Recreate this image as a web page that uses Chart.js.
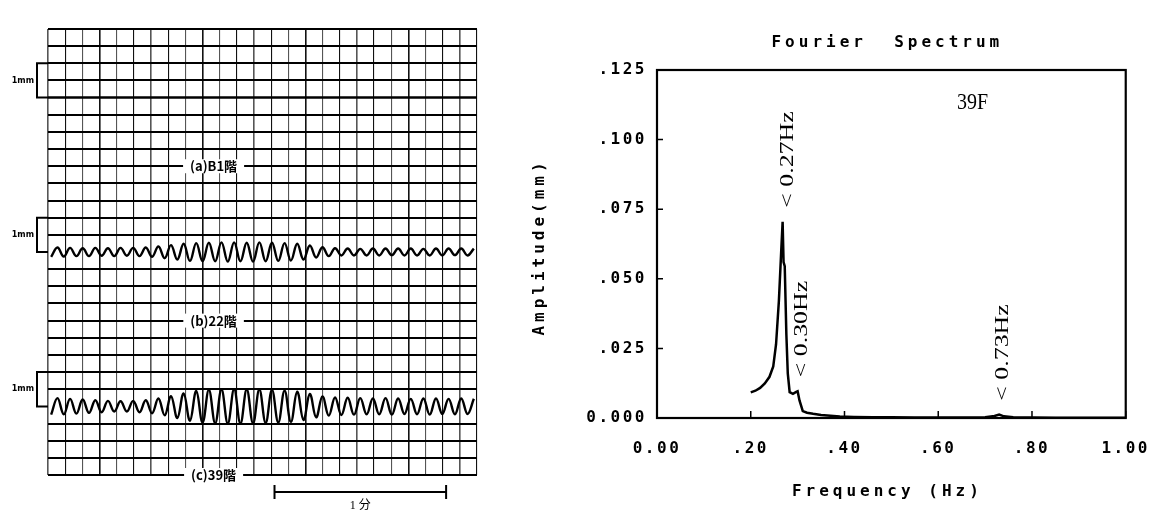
<!DOCTYPE html>
<html>
<head>
<meta charset="utf-8">
<script src="https://cdn.jsdelivr.net/npm/chart.js@4.4.1/dist/chart.umd.min.js"></script>
<style>
  html, body { margin: 0; padding: 0; background: #fff; }
  #wrap { position: relative; width: 1166px; height: 525px; overflow: hidden; background: #fff; }
  #records { position: absolute; left: 0; top: 0; }
  #spectrum { position: absolute; left: 520px; top: 0; }
</style>
</head>
<body>
<div id="wrap">
  <canvas id="records" width="500" height="525"></canvas>
  <canvas id="spectrum" width="646" height="525"></canvas>
</div>
<script>
// 記録波形: 半周期ごとの山・谷の振幅 (mm)
const traceB1 = [0, 0];
const traceB22 = [
  -0.14, 0.13, -0.13, 0.12, -0.12, 0.11, -0.12, 0.12, -0.11, 0.11, -0.12, 0.12, -0.11, 0.12, -0.12, 0.13, -0.14,
  0.16, -0.18, 0.20, -0.22, 0.24,
  -0.26, 0.26, -0.27, 0.27, -0.27, 0.28, -0.28, 0.28, -0.27, 0.27, -0.28, 0.28, -0.27, 0.27, -0.26, 0.26, -0.25, 0.24, -0.22,
  0.19, -0.16, 0.14, -0.12,
  0.11, -0.10, 0.10, -0.10, 0.09, -0.10, 0.10, -0.10, 0.10, -0.09, 0.10, -0.10, 0.10, -0.10, 0.09, -0.10, 0.10, -0.10, 0.10, -0.09, 0.10, -0.10, 0.10
];
const traceC39 = [
  -0.24, 0.24, -0.23, 0.22, -0.21, 0.20,
  -0.19, 0.18, -0.17, 0.16, -0.15, 0.15, -0.15, 0.16, -0.17, 0.18,
  -0.20, 0.23, -0.26, 0.30,
  -0.34, 0.38, -0.42, 0.45,
  -0.47, 0.48, -0.49, 0.49, -0.50, 0.50, -0.50, 0.49, -0.49, 0.49, -0.48, 0.48, -0.47, 0.46, -0.45, 0.43,
  -0.40, 0.36, -0.32, 0.29,
  -0.27, 0.26, -0.25, 0.25, -0.24, 0.24, -0.23, 0.23, -0.23, 0.24, -0.24, 0.23, -0.22, 0.22, -0.23, 0.23, -0.24, 0.23, -0.22, 0.22, -0.23, 0.23, -0.22, 0.22
];
const floorLabels = ['(a)B1階', '(b)22階', '(c)39階'];

// フーリエスペクトル (39F)
const freqHz = [0.200, 0.210, 0.220, 0.230, 0.240, 0.248, 0.254, 0.260, 0.265, 0.268, 0.270, 0.2725, 0.276, 0.279, 0.283,
  0.290, 0.297, 0.300, 0.304, 0.311, 0.320, 0.333, 0.350, 0.370, 0.390, 0.420, 0.460, 0.500, 0.550, 0.600, 0.650,
  0.700, 0.720, 0.730, 0.740, 0.760, 0.800, 0.850, 0.900, 0.950, 1.000];
const amplitudeMm = [0.0092, 0.0098, 0.0108, 0.0124, 0.0148, 0.0185, 0.0265, 0.0420, 0.0600, 0.0705, 0.0560, 0.0545, 0.0300, 0.0160, 0.0093,
  0.0087, 0.0094, 0.0096, 0.0063, 0.0025, 0.0019, 0.0015, 0.0011, 0.0008, 0.0005, 0.0004, 0.0003, 0.0003, 0.0002, 0.0002, 0.0002,
  0.0003, 0.0007, 0.0012, 0.0006, 0.0003, 0.0002, 0.0001, 0.0001, 0.0001, 0.0001];
const peakFreq = [0.27, 0.30, 0.73];
const peakAmp = [0.0705, 0.0096, 0.0012];
const peakText = ['< 0.27Hz', '< 0.30Hz', '< 0.73Hz'];
const xTickLabels = ['0.00', '.20', '.40', '.60', '.80', '1.00'];
const yTickLabels = ['0.000', '.025', '.050', '.075', '.100', '.125'];

// --- 記録紙 ---
const GRID_COLS = 25, GRID_ROWS = 26;
const traceRows = [22, 13, 4];   // 各波形の基線 (グリッド行)
const labelRows = [18, 9, 0];
const MM = 2;                    // 1mm = 2 マス

function wavePoints(vals, row) {
  const step = GRID_COLS / vals.length;
  return vals.map((v, i) => ({ x: (i + 0.5) * step, y: row + v * MM }));
}

const recordDecor = {
  id: 'recordDecor',
  afterDraw(chart) {
    const { ctx, chartArea: a, scales: { x, y } } = chart;
    ctx.save();
    ctx.strokeStyle = '#000';
    ctx.fillStyle = '#000';
    ctx.lineWidth = 2;
    // 1mm brackets
    traceRows.forEach(r => {
      const y0 = y.getPixelForValue(r), y1 = y.getPixelForValue(r + MM);
      const bx = a.left - 11;
      ctx.beginPath();
      ctx.moveTo(a.left, y1); ctx.lineTo(bx, y1); ctx.lineTo(bx, y0); ctx.lineTo(a.left, y0);
      ctx.stroke();
      ctx.font = 'bold 8px "DejaVu Sans"';
      ctx.textAlign = 'right';
      ctx.textBaseline = 'middle';
      ctx.fillText('1mm', bx - 3, (y0 + y1) / 2);
    });
    // floor labels on white
    ctx.font = 'bold 13px "Noto Sans CJK JP"';
    ctx.textAlign = 'center';
    ctx.textBaseline = 'middle';
    floorLabels.forEach((t, i) => {
      const cx = x.getPixelForValue(9.65), cy = y.getPixelForValue(labelRows[i]);
      const w = ctx.measureText(t).width + 14;
      ctx.fillStyle = '#fff';
      ctx.fillRect(cx - w / 2, cy - 7, w, 14);
      ctx.fillStyle = '#000';
      ctx.fillText(t, cx, cy);
    });
    // 1分 scale bar
    const sx0 = x.getPixelForValue(13.2), sx1 = x.getPixelForValue(23.2), sy = a.bottom + 17;
    ctx.lineWidth = 2;
    ctx.beginPath();
    ctx.moveTo(sx0, sy); ctx.lineTo(sx1, sy);
    ctx.moveTo(sx0, sy - 7); ctx.lineTo(sx0, sy + 7);
    ctx.moveTo(sx1, sy - 7); ctx.lineTo(sx1, sy + 7);
    ctx.stroke();
    ctx.font = '12px "Liberation Serif", "Noto Sans CJK JP"';
    ctx.fillText('1 分', (sx0 + sx1) / 2, sy + 14);
    ctx.restore();
  }
};

new Chart(document.getElementById('records'), {
  type: 'line',
  data: {
    datasets: [
      { data: [{ x: 0, y: traceRows[0] + traceB1[0] }, { x: GRID_COLS, y: traceRows[0] + traceB1[1] }], borderWidth: 2.5, tension: 0 },
      { data: wavePoints(traceB22, traceRows[1]), borderWidth: 2.4, tension: 0.4 },
      { data: wavePoints(traceC39, traceRows[2]), borderWidth: 2.4, tension: 0.4 }
    ]
  },
  options: {
    responsive: false,
    animation: false,
    layout: { padding: { left: 48, right: 23, top: 29, bottom: 50 } },
    elements: { point: { radius: 0 }, line: { borderColor: '#000' } },
    plugins: { legend: { display: false }, tooltip: { enabled: false } },
    scales: {
      x: {
        type: 'linear', min: 0, max: GRID_COLS,
        ticks: { display: false, stepSize: 1 },
        border: { display: false },
        grid: {
          drawTicks: false,
          color: c => (c.index % 2 === 0 ? '#555' : '#111'),
          lineWidth: c => (c.index % 3 === 0 ? 1.6 : 1.1)
        }
      },
      y: {
        type: 'linear', min: 0, max: GRID_ROWS,
        ticks: { display: false, stepSize: 1 },
        border: { display: false },
        grid: {
          drawTicks: false,
          color: '#000',
          lineWidth: c => (traceRows.includes(c.tick.value) ? 0 : 2)
        }
      }
    }
  },
  plugins: [recordDecor]
});

// --- Fourier Spectrum ---
const MONO = '"DejaVu Sans Mono", monospace';

const spectrumDecor = {
  id: 'spectrumDecor',
  beforeDraw(chart) { chart.ctx.letterSpacing = '2.5px'; },
  afterDraw(chart) {
    const { ctx, chartArea: a, scales: { x, y } } = chart;
    ctx.letterSpacing = '0px';
    ctx.save();
    ctx.strokeStyle = '#000';
    ctx.fillStyle = '#000';
    ctx.lineWidth = 2.2;
    ctx.strokeRect(a.left, a.top, a.right - a.left, a.bottom - a.top);
    // inward ticks
    ctx.lineWidth = 1.5;
    ctx.beginPath();
    y.ticks.forEach(t => {
      const p = y.getPixelForValue(t.value);
      ctx.moveTo(a.left, p); ctx.lineTo(a.left + 6, p);
    });
    x.ticks.forEach(t => {
      const p = x.getPixelForValue(t.value);
      ctx.moveTo(p, a.bottom); ctx.lineTo(p, a.bottom - 7);
    });
    ctx.stroke();

    // titles
    ctx.font = 'bold 16px ' + MONO;
    ctx.letterSpacing = '4px';
    ctx.textAlign = 'center';
    ctx.textBaseline = 'middle';
    const cx = (a.left + a.right) / 2 - 4;
    ctx.fillText('Fourier  Spectrum', cx, 43);
    ctx.fillText('Frequency (Hz)', cx, 492);
    ctx.save();
    ctx.translate(20, (a.top + a.bottom) / 2 + 3);
    ctx.rotate(-Math.PI / 2);
    ctx.fillText('Amplitude(mm)', 0, 0);
    ctx.restore();
    ctx.letterSpacing = '0px';

    // peak labels
    ctx.font = '19px "Liberation Serif", serif';
    ctx.textAlign = 'left';
    peakFreq.forEach((f, i) => {
      ctx.save();
      ctx.translate(x.getPixelForValue(f) + 4, y.getPixelForValue(peakAmp[i]) - 14);
      ctx.rotate(-Math.PI / 2);
      ctx.scale(1.36, 1);
      ctx.fillText(peakText[i], 0, 0);
      ctx.restore();
    });

    // 39F
    ctx.save();
    ctx.font = '20px "Liberation Serif", serif';
    ctx.translate(a.left + 300, a.top + 33);
    ctx.scale(1, 1.15);
    ctx.fillText('39F', 0, 0);
    ctx.restore();
    ctx.restore();
  }
};

new Chart(document.getElementById('spectrum'), {
  type: 'line',
  data: {
    datasets: [{
      data: freqHz.map((f, i) => ({ x: f, y: amplitudeMm[i] })),
      borderColor: '#000',
      borderWidth: 2.5,
      pointRadius: 0,
      tension: 0
    }]
  },
  options: {
    responsive: false,
    animation: false,
    layout: { padding: { left: 10, right: 39, top: 70, bottom: 10 } },
    plugins: { legend: { display: false }, tooltip: { enabled: false } },
    scales: {
      x: {
        type: 'linear', min: 0, max: 1,
        ticks: {
          stepSize: 0.2, padding: 21, color: '#000',
          font: { family: MONO, size: 16, weight: 'bold' },
          callback: (v, i) => xTickLabels[i]
        },
        grid: { display: false, drawTicks: false },
        border: { display: false },
        afterFit: s => { s.height = 97; }
      },
      y: {
        type: 'linear', min: 0, max: 0.125,
        ticks: {
          stepSize: 0.025, padding: 10, color: '#000',
          font: { family: MONO, size: 16, weight: 'bold' },
          callback: (v, i) => yTickLabels[i]
        },
        grid: { display: false, drawTicks: false },
        border: { display: false },
        afterFit: s => { s.width = 127; }
      }
    }
  },
  plugins: [spectrumDecor]
});
</script>
</body>
</html>
